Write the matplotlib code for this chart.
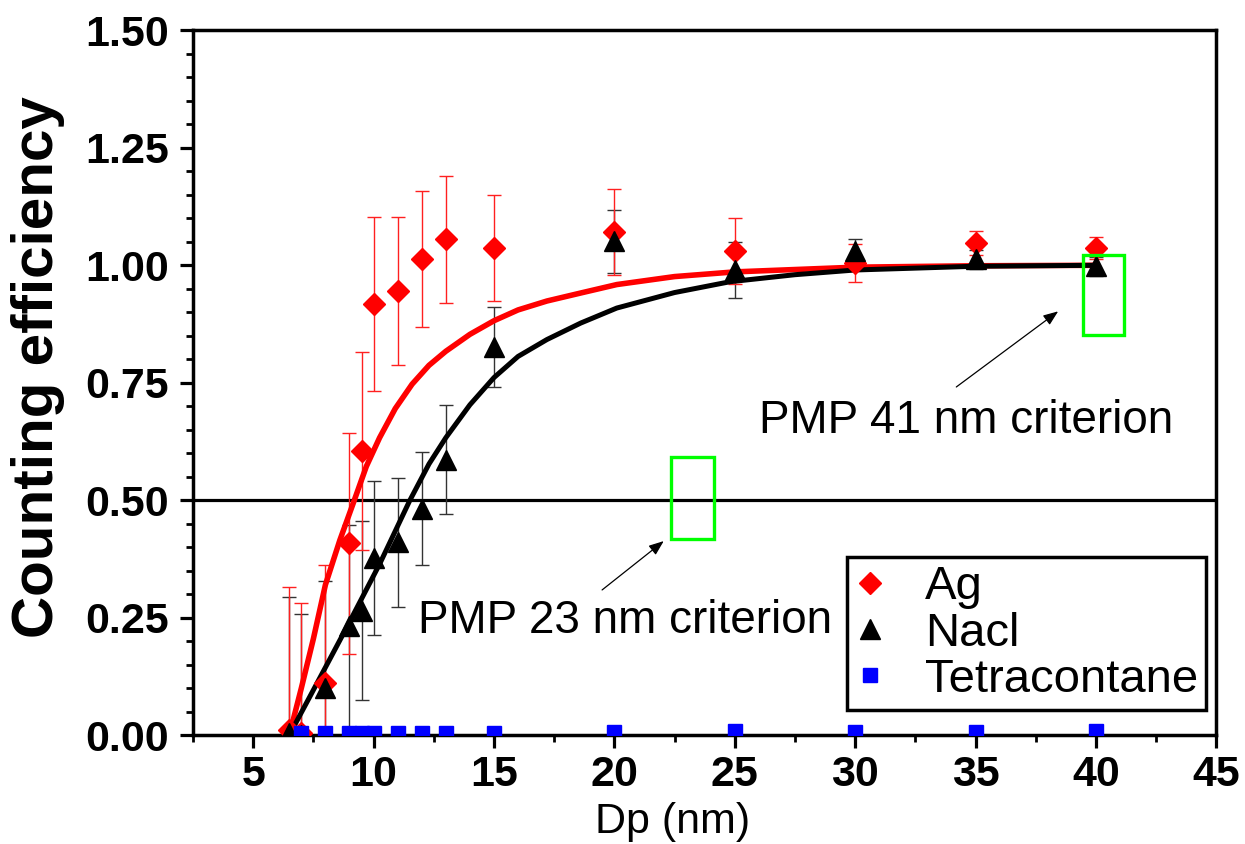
import numpy as np
import matplotlib
matplotlib.use('Agg')
import matplotlib.pyplot as plt
from matplotlib.patches import Rectangle
from matplotlib.ticker import MultipleLocator, FormatStrFormatter

plt.rcParams['font.family'] = ['Liberation Sans', 'DejaVu Sans']

# measured counting efficiency (symmetric error bars)
dp = [6.5, 7, 8, 9, 9.5, 10, 11, 12, 13, 15, 20, 25, 30, 35, 40]
ag = [0.01, 0.005, 0.111, 0.408, 0.604, 0.917, 0.945, 1.013, 1.055, 1.037, 1.071, 1.030, 1.005, 1.047, 1.037]
ag_err = [0.305, 0.277, 0.252, 0.236, 0.211, 0.185, 0.157, 0.145, 0.136, 0.113, 0.091, 0.070, 0.040, 0.025, 0.023]
nacl = [0.005, 0.0, 0.10, 0.232, 0.265, 0.377, 0.41, 0.482, 0.586, 0.826, 1.051, 0.99, 1.03, 1.013, 0.998]
nacl_err = [0.29, 0.258, 0.228, 0.215, 0.19, 0.163, 0.137, 0.12, 0.116, 0.085, 0.067, 0.06, 0.026, 0.02, 0.02]

dp_tetra = [7, 8, 9, 9.5, 10, 11, 12, 13, 15, 20, 25, 30, 35, 40]
tetra = [0.004, 0.005, 0.005, 0.005, 0.005, 0.005, 0.005, 0.005, 0.005, 0.006, 0.009, 0.006, 0.006, 0.009]

# fitted curves
fit_ag_x = [6.5, 7.0, 7.5, 8.0, 8.6, 9.2, 9.7, 10.25, 10.9, 11.6, 12.3, 13.0, 14.0, 15.0, 16.0,
            17.2, 18.6, 20.1, 22.5, 25, 30, 35, 40]
fit_ag_y = [0.0, 0.10, 0.205, 0.32, 0.415, 0.50, 0.572, 0.633, 0.695, 0.747, 0.787, 0.817, 0.853, 0.882, 0.905,
            0.924, 0.941, 0.959, 0.976, 0.986, 0.996, 0.999, 1.0]
fit_nacl_x = [6.5, 7.5, 8.85, 10.25, 11.5, 12.3, 13.0, 14.0, 15.0, 16.0, 17.2, 18.6, 20.1, 22.5,
              24.8, 27.5, 30, 35, 40]
fit_nacl_y = [0.0, 0.096, 0.226, 0.364, 0.499, 0.577, 0.633, 0.703, 0.761, 0.806, 0.842, 0.877, 0.909, 0.942,
              0.965, 0.980, 0.99, 0.998, 1.0]

fig = plt.figure(figsize=(12.45, 8.44), dpi=100)
ax = fig.add_axes([0.155, 0.129, 0.822, 0.835])

ax.axhline(0.5, color='black', lw=2.3, zorder=2)

ax.errorbar(dp, nacl, yerr=nacl_err, fmt='none', ecolor='#333333', elinewidth=1.0,
            capsize=4.7, capthick=1.0, zorder=2)
ax.errorbar(dp, ag, yerr=ag_err, fmt='none', ecolor='#ff2020', elinewidth=1.0,
            capsize=4.7, capthick=1.0, zorder=2)

ax.plot(fit_ag_x, fit_ag_y, color='red', lw=4.0, zorder=3, solid_capstyle='butt', solid_joinstyle='round')
ax.plot(fit_nacl_x, fit_nacl_y, color='black', lw=3.6, zorder=3, solid_capstyle='butt', solid_joinstyle='round')

ax.plot(dp, ag, 'D', color='red', ms=11, mec='red', label='Ag', zorder=4, linestyle='none')
ax.plot(dp, nacl, '^', color='black', ms=14, mec='black', label='Nacl', zorder=4, linestyle='none')
ax.plot(dp_tetra, tetra, 's', color='blue', ms=10, mec='blue', label='Tetracontane', zorder=4, linestyle='none')

# criterion boxes and annotations
ax.add_patch(Rectangle((22.36, 0.418), 1.78, 0.173, fill=False, edgecolor='#00ff00', lw=2.4, zorder=5))
ax.add_patch(Rectangle((39.47, 0.851), 1.71, 0.170, fill=False, edgecolor='#00ff00', lw=2.4, zorder=5))
arrow = dict(arrowstyle='-|>,head_length=0.9,head_width=0.35', color='black', lw=0.9, shrinkA=0, shrinkB=0)
ax.annotate('', xy=(22.05, 0.413), xytext=(19.49, 0.309), arrowprops=arrow)
ax.annotate('', xy=(38.43, 0.902), xytext=(34.2, 0.741), arrowprops=arrow)
ax.text(11.85, 0.2166, 'PMP 23 nm criterion', fontsize=33, va='baseline', ha='left')
ax.text(26.0, 0.644, 'PMP 41 nm criterion', fontsize=33, va='baseline', ha='left')

ax.set_xlim(2.5, 45)
ax.set_ylim(0, 1.5)
ax.xaxis.set_major_locator(MultipleLocator(5))
ax.xaxis.set_minor_locator(MultipleLocator(2.5))
ax.yaxis.set_major_locator(MultipleLocator(0.25))
ax.yaxis.set_minor_locator(MultipleLocator(0.05))
ax.yaxis.set_major_formatter(FormatStrFormatter('%.2f'))
ax.tick_params(which='major', direction='out', length=9.5, width=2.3, labelsize=31)
ax.tick_params(axis='y', which='major', pad=8)
ax.tick_params(axis='x', which='major', pad=5)
ax.tick_params(which='minor', direction='out', length=5, width=2.0)
for lab in ax.get_xticklabels() + ax.get_yticklabels():
    lab.set_fontweight('bold')
for sp in ax.spines.values():
    sp.set_linewidth(2.5)

ax.set_xlabel('Dp (nm)', fontsize=31, va='center')
ax.xaxis.set_label_coords(0.469, -0.123)
ax.set_ylabel('Counting efficiency', fontsize=42, fontweight='bold', va='center')
ax.yaxis.set_label_coords(-0.151, 0.522)

leg = ax.legend(loc='upper left', bbox_to_anchor=(0.639, 0.2525), fontsize=34,
                frameon=True, fancybox=False, edgecolor='black', framealpha=1,
                borderpad=0.17, labelspacing=0.05, handletextpad=0.85, handlelength=0.64,
                borderaxespad=0)
leg.get_frame().set_linewidth(2.5)

fig.savefig('out.png', dpi=100)
